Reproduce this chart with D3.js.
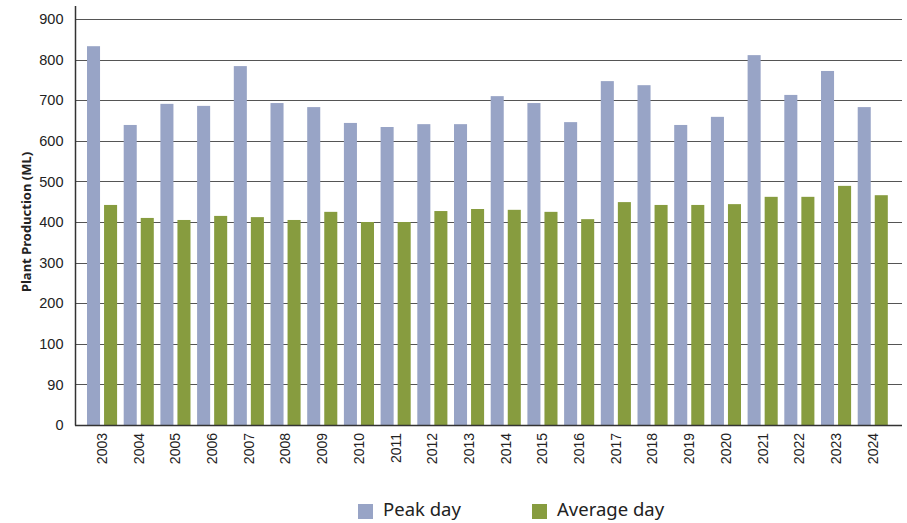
<!DOCTYPE html>
<html>
<head>
<meta charset="utf-8">
<script src="https://cdn.jsdelivr.net/npm/d3@7"></script>
<style>
  body { margin: 0; background: #fff; }
  svg { display: block; font-family: "Noto Sans", "Open Sans", sans-serif; }
  .grid line { stroke: #555; stroke-width: 1; shape-rendering: crispEdges; }
</style>
</head>
<body>
<svg id="chart" width="907" height="523"></svg>
<script>
const years = ["2003","2004","2005","2006","2007","2008","2009","2010","2011","2012","2013",
  "2014","2015","2016","2017","2018","2019","2020","2021","2022","2023","2024"];
const peakDay = [833,639,691,686,784,693,683,644,634,641,641,710,693,646,747,737,639,659,811,713,772,683];
const averageDay = [442,410,405,415,412,405,425,400,400,427,432,430,425,407,449,442,442,444,462,462,489,466];
// tick labels as printed on the original (note the odd "90" step)
const yTickValues = [-100,0,100,200,300,400,500,600,700,800,900];
const yTickLabels = ["0","90","100","200","300","400","500","600","700","800","900"];
const seriesNames = ["Peak day","Average day"];
const colors = ["#98a4c6","#879c3f"];

const svg = d3.select("#chart");

const y = d3.scaleLinear().domain([-100, 900]).range([425, 19]);

const x0 = d3.scaleBand().domain(years).range([87, 887.8]).paddingInner(0.18).paddingOuter(0);
const x1 = d3.scaleBand().domain([0, 1]).range([0, x0.bandwidth()]).paddingInner(0.235);

// grid lines
svg.append("g")
  .attr("class", "grid")
  .selectAll("line")
  .data(yTickValues.slice(1))
  .enter()
  .append("line")
  .attr("x1", 75).attr("x2", 902)
  .attr("y1", d => Math.round(y(d)) + 0.5)
  .attr("y2", d => Math.round(y(d)) + 0.5);

// bars
const rows = years.map((yr, i) => ({year: yr, values: [peakDay[i], averageDay[i]]}));

svg.append("g")
  .selectAll("g")
  .data(rows)
  .enter()
  .append("g")
  .attr("transform", d => `translate(${x0(d.year)},0)`)
  .selectAll("rect")
  .data(d => d.values.map((v, k) => ({k, v})))
  .enter()
  .append("rect")
  .attr("x", d => x1(d.k))
  .attr("width", x1.bandwidth())
  .attr("y", d => y(d.v))
  .attr("height", d => y(-100) - y(d.v))
  .attr("fill", d => colors[d.k]);

// y axis
const yAxis = d3.axisLeft(y)
  .tickValues(yTickValues)
  .tickFormat((d, i) => yTickLabels[i])
  .tickSize(0)
  .tickPadding(12);

const ya = svg.append("g")
  .attr("transform", "translate(75.5,0)")
  .call(yAxis);
ya.select(".domain").remove();
ya.selectAll("text").attr("font-size", 14.5).attr("fill", "#222");

svg.append("line")
  .attr("x1", 75.5).attr("x2", 75.5)
  .attr("y1", 6).attr("y2", 425.5)
  .attr("stroke", "#333").attr("stroke-width", 1.5);

// baseline + x axis
svg.append("line")
  .attr("x1", 75).attr("x2", 902)
  .attr("y1", 425.5).attr("y2", 425.5)
  .attr("stroke", "#333").attr("stroke-width", 1.5);

const xAxis = d3.axisBottom(x0).tickSize(0).tickPadding(0);
const xa = svg.append("g")
  .attr("transform", "translate(0,425)")
  .call(xAxis);
xa.select(".domain").remove();
xa.selectAll("text")
  .attr("font-size", 14)
  .attr("fill", "#222")
  .attr("transform", "rotate(-90)")
  .attr("text-anchor", "end")
  .attr("dy", "0.35em")
  .attr("x", -8)
  .attr("y", 0);

// y title
svg.append("text")
  .attr("transform", "translate(26,222) rotate(-90)")
  .attr("text-anchor", "middle")
  .attr("dy", "0.35em")
  .attr("font-size", 13)
  .attr("font-weight", "bold")
  .attr("fill", "#222")
  .text("Plant Production (ML)");

// legend
const legendX = [358, 532];
const legend = svg.append("g")
  .selectAll("g")
  .data(seriesNames)
  .enter()
  .append("g")
  .attr("transform", (d, i) => `translate(${legendX[i]},504)`);

legend.append("rect")
  .attr("width", 15).attr("height", 15)
  .attr("fill", (d, i) => colors[i]);

legend.append("text")
  .attr("x", 25).attr("y", 6)
  .attr("dy", "0.35em")
  .attr("font-size", 18.5)
  .attr("fill", "#222")
  .text(d => d);
</script>
</body>
</html>
